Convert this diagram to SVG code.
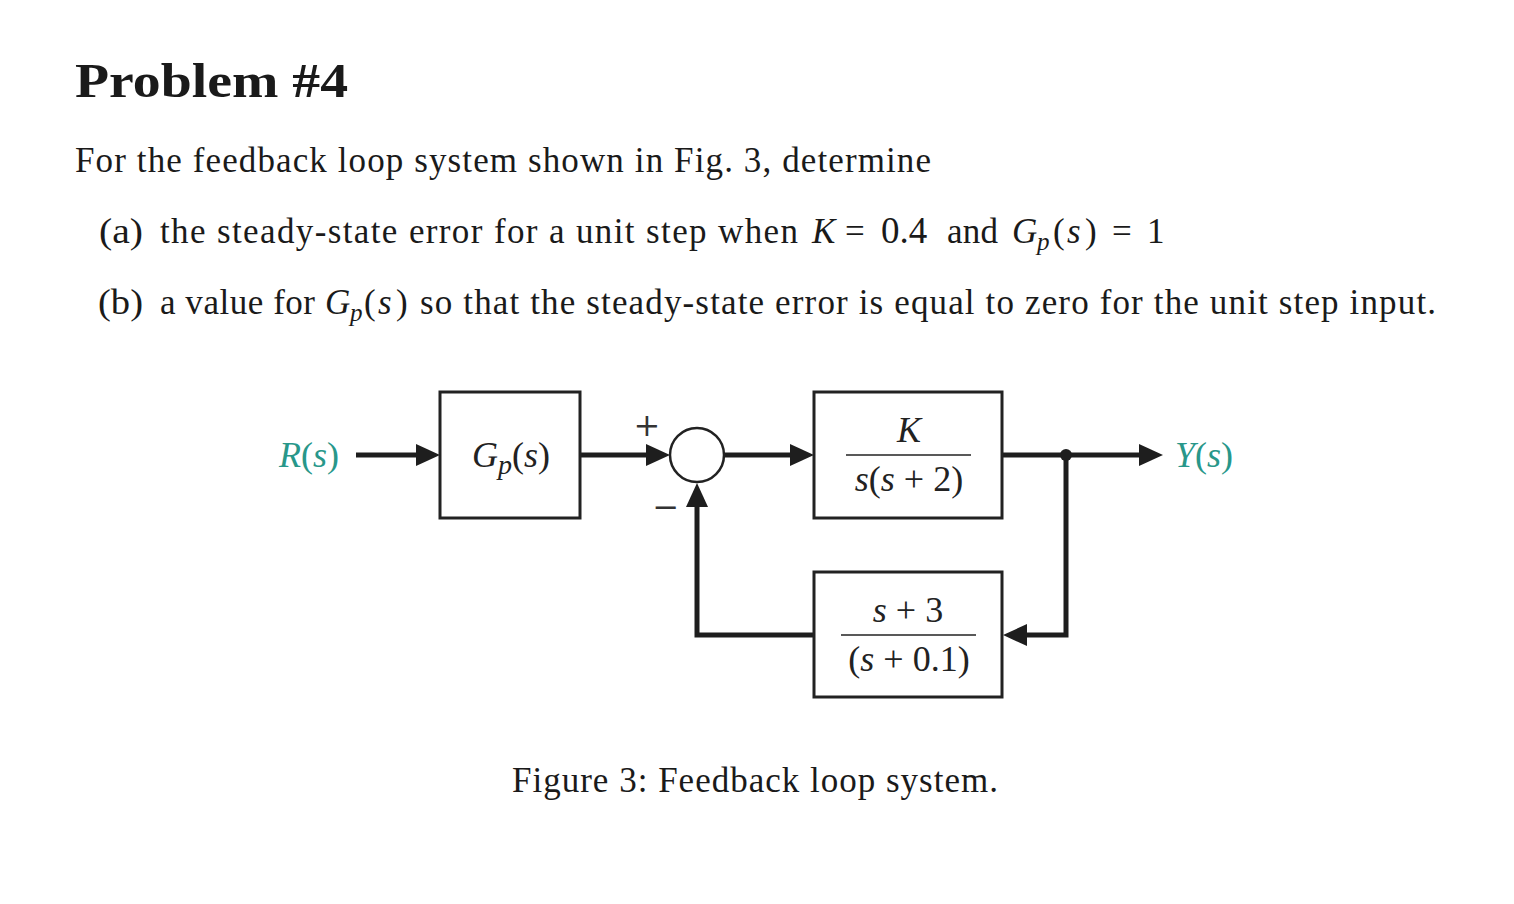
<svg xmlns="http://www.w3.org/2000/svg" width="1514" height="904" viewBox="0 0 1514 904">
<style>
.t{font-family:"Liberation Serif","Times New Roman",serif;fill:#1a1a1a}
.b{font-size:35px}
.m{font-style:italic}
.d{font-family:"Liberation Serif","Times New Roman",serif;font-size:36px;fill:#222}
.sign{font-family:"DejaVu Serif","Liberation Serif",serif;font-size:32px;fill:#333}
.teal{fill:#28978a}
.box{fill:none;stroke:#222;stroke-width:3}
.wire{fill:none;stroke:#1e1e1e;stroke-width:5}
.frac{stroke:#222;stroke-width:1.6}
</style>
<defs>
<marker id="arr" markerUnits="userSpaceOnUse" markerWidth="24" markerHeight="24" viewBox="0 0 24 24" refX="14" refY="12" orient="auto">
<path d="M0,1 L24,12 L0,23 Z" fill="#1e1e1e"/>
</marker>
</defs>
<rect width="1514" height="904" fill="#fff"/>

<g id="text-block">
<text class="t" x="75" y="97" font-size="48" font-weight="bold" textLength="273" lengthAdjust="spacingAndGlyphs">Problem #4</text>
<text class="t b" x="75" y="172" textLength="856" lengthAdjust="spacing">For the feedback loop system shown in Fig. 3, determine</text>
<text class="t b" x="99" y="243" textLength="44" lengthAdjust="spacingAndGlyphs">(a)</text>
<text class="t b" x="160" y="243" textLength="638" lengthAdjust="spacing">the steady-state error for a unit step when</text>
<text class="t b m" x="812" y="243">K</text>
<text class="t b" x="845" y="243">=</text>
<text class="t" x="881" y="243" font-size="37">0.4</text>
<text class="t b" x="947" y="243" textLength="51" lengthAdjust="spacing">and</text>
<text class="t b m" x="1012" y="243">G</text>
<text class="t m" x="1037" y="250" font-size="25">p</text>
<text class="t b" x="1053" y="243">(</text><text class="t b m" x="1067" y="243">s</text><text class="t b" x="1085" y="243">)</text>
<text class="t b" x="1112" y="243">=</text>
<text class="t b" x="1147" y="243">1</text>

<text class="t b" x="98" y="314" textLength="45" lengthAdjust="spacingAndGlyphs">(b)</text>
<text class="t b" x="160" y="314" textLength="155" lengthAdjust="spacing">a value for</text>
<text class="t b m" x="325" y="314">G</text>
<text class="t m" x="350" y="321" font-size="25">p</text>
<text class="t b" x="364" y="314">(</text><text class="t b m" x="378" y="314">s</text><text class="t b" x="396" y="314">)</text>
<text class="t b" x="420" y="314" textLength="1016" lengthAdjust="spacing">so that the steady-state error is equal to zero for the unit step input.</text>

<text class="t b" x="512" y="792" textLength="486" lengthAdjust="spacing">Figure 3: Feedback loop system.</text>
</g>

<g id="connectors">
<path class="wire" d="M356,455 H430" marker-end="url(#arr)"/>
<path class="wire" d="M581,455 H660" marker-end="url(#arr)"/>
<path class="wire" d="M724,455 H804" marker-end="url(#arr)"/>
<path class="wire" d="M1002,455 H1153" marker-end="url(#arr)"/>
<path class="wire" d="M1066,455 V635 H1013" marker-end="url(#arr)"/>
<path class="wire" d="M814,635 H697 V493" marker-end="url(#arr)"/>
<circle cx="1066" cy="455" r="6" fill="#1e1e1e"/>
</g>

<g id="node-R">
<text class="d teal" x="279" y="467"><tspan font-style="italic">R</tspan>(<tspan font-style="italic">s</tspan>)</text>
</g>

<g id="node-Gp">
<rect class="box" x="440" y="392" width="140" height="126"/>
<text class="d" x="472" y="467"><tspan font-style="italic">G</tspan><tspan font-style="italic" font-size="28" dy="7">p</tspan><tspan dy="-7">(</tspan><tspan font-style="italic">s</tspan>)</text>
</g>

<g id="node-sum">
<circle cx="697" cy="455" r="27" fill="#fff" stroke="#222" stroke-width="2.5"/>
<text class="sign" x="647" y="436" text-anchor="middle">+</text>
<text class="sign" x="666" y="518" text-anchor="middle">−</text>
</g>

<g id="node-G">
<rect class="box" x="814" y="392" width="188" height="126"/>
<text class="d" x="909" y="442" text-anchor="middle" font-style="italic">K</text>
<line class="frac" x1="846" y1="455" x2="971" y2="455"/>
<text class="d" x="909" y="491" text-anchor="middle"><tspan font-style="italic">s</tspan>(<tspan font-style="italic">s</tspan> + 2)</text>
</g>

<g id="node-H">
<rect class="box" x="814" y="572" width="188" height="125"/>
<text class="d" x="908" y="622" text-anchor="middle"><tspan font-style="italic">s</tspan> + 3</text>
<line class="frac" x1="841" y1="635" x2="976" y2="635"/>
<text class="d" x="909" y="671" text-anchor="middle">(<tspan font-style="italic">s</tspan> + 0.1)</text>
</g>

<g id="node-Y">
<text class="d teal" x="1175" y="467"><tspan font-style="italic">Y</tspan>(<tspan font-style="italic">s</tspan>)</text>
</g>
</svg>
